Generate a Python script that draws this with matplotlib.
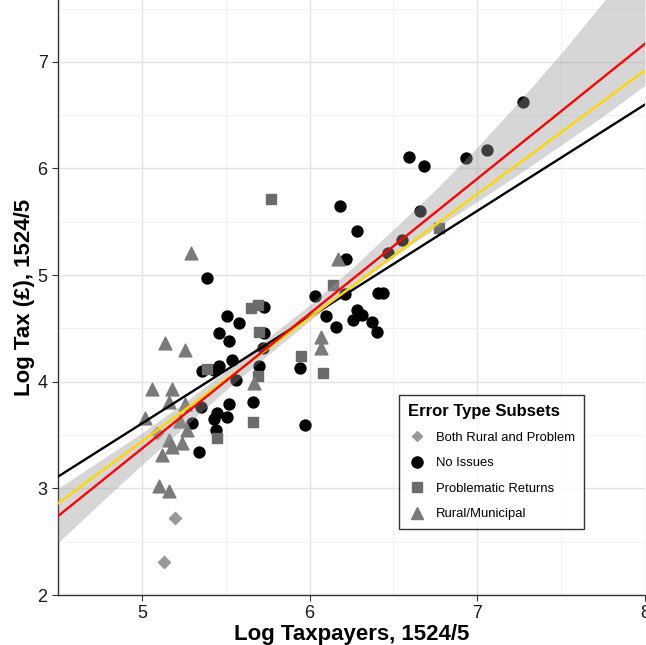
import matplotlib.pyplot as plt
from matplotlib.lines import Line2D

plt.rcParams['font.family'] = ['Liberation Sans', 'DejaVu Sans']

# No Issues (black circles): log taxpayers, log tax
none_x = [5.39, 5.51, 5.58, 5.46, 5.52, 5.54, 5.46, 5.36, 5.43, 5.56, 5.70, 5.73,
          5.73, 5.72, 5.94, 6.03, 6.10, 6.16, 6.26, 6.28, 6.31, 6.37, 6.40, 6.41,
          6.44, 6.22, 6.18, 6.28, 6.59, 6.68, 6.93, 7.27, 7.06, 6.66, 6.55, 6.47,
          6.21, 5.97, 5.66, 5.52, 5.45, 5.43, 5.51, 5.30, 5.44, 5.34, 5.35]
none_y = [4.97, 4.62, 4.55, 4.46, 4.38, 4.20, 4.15, 4.10, 4.11, 4.02, 4.15, 4.70,
          4.46, 4.32, 4.13, 4.80, 4.62, 4.51, 4.58, 4.67, 4.63, 4.56, 4.47, 4.83,
          4.83, 5.15, 5.65, 5.41, 6.11, 6.02, 6.10, 6.62, 6.17, 5.60, 5.33, 5.21,
          4.82, 3.59, 3.81, 3.79, 3.71, 3.65, 3.67, 3.61, 3.55, 3.34, 3.76]

# Problematic Returns (squares)
prob_x = [5.77, 5.65, 5.69, 5.70, 5.39, 5.69, 5.66, 5.45, 5.95, 6.14, 6.08, 6.77]
prob_y = [5.71, 4.69, 4.72, 4.47, 4.12, 4.05, 3.62, 3.47, 4.24, 4.91, 4.08, 5.44]

# Rural/Municipal (triangles)
rural_x = [5.29, 5.14, 5.26, 5.06, 5.18, 5.16, 5.02, 5.27, 5.16, 5.18, 5.24, 5.12,
           5.10, 5.16, 5.67, 6.07, 6.07, 6.17, 5.26, 5.23]
rural_y = [5.21, 4.36, 4.30, 3.93, 3.93, 3.81, 3.66, 3.55, 3.45, 3.39, 3.43, 3.31,
           3.02, 2.98, 3.99, 4.42, 4.32, 5.15, 3.79, 3.63]

# Both Rural and Problem (diamonds)
both_x = [5.20, 5.13, 5.09]
both_y = [2.72, 2.31, 3.52]

# fitted lines, read at the panel edges
line_x = [4.5, 8.0]
black_y = [3.11, 6.60]
yellow_y = [2.86, 6.92]
red_y = [2.74, 7.17]

# confidence band
band_x = [4.5, 4.75, 5.0, 5.25, 5.5, 5.75, 6.0, 6.25, 6.5, 6.75, 7.0, 7.25, 7.5, 7.75, 8.0]
band_lo = [2.49, 2.86, 3.22, 3.57, 3.92, 4.25, 4.57, 4.88, 5.17, 5.44, 5.69, 5.95,
           6.22, 6.49, 6.78]
band_hi = [3.00, 3.26, 3.52, 3.80, 4.10, 4.41, 4.72, 5.06, 5.43, 5.80, 6.20, 6.63,
           7.08, 7.56, 8.05]

fig = plt.figure(figsize=(6.46, 6.45), dpi=100)
ax = fig.add_axes([0.0898, 0.0775, 0.9087, 0.9225])

ax.scatter(both_x, both_y, marker='D', s=38, color='#999999', zorder=3)
ax.scatter(none_x, none_y, marker='o', s=62, color='black', zorder=3)
ax.scatter(prob_x, prob_y, marker='s', s=58, color='#6b6b6b', zorder=3)
ax.scatter(rural_x, rural_y, marker='^', s=85, color='#7a7a7a', zorder=3)

ax.fill_between(band_x, band_lo, band_hi, color='#999999', alpha=0.4, lw=0, zorder=4)
ax.plot(line_x, black_y, color='black', lw=1.7, zorder=5)
ax.plot(line_x, yellow_y, color='#FFD700', lw=1.7, zorder=6)
ax.plot(line_x, red_y, color='red', lw=1.7, zorder=7)

ax.set_xlim(4.5, 8.0)
ax.set_ylim(2.0, 7.58)
ax.set_xticks([5, 6, 7, 8])
ax.set_yticks([2, 3, 4, 5, 6, 7])
ax.set_xticks([4.5, 5.5, 6.5, 7.5], minor=True)
ax.set_yticks([2.5, 3.5, 4.5, 5.5, 6.5, 7.5], minor=True)
ax.grid(which='major', color='#e3e3e3', lw=1)
ax.grid(which='minor', color='#efefef', lw=0.6)
ax.set_axisbelow(True)
for s in ['top', 'right']:
    ax.spines[s].set_visible(False)
for s in ['left', 'bottom']:
    ax.spines[s].set_color('#333333')
    ax.spines[s].set_linewidth(1.0)
ax.tick_params(which='major', length=4, color='#333333', labelsize=13, labelcolor='#1a1a1a')
ax.tick_params(which='minor', length=0)

ax.set_xlabel('Log Taxpayers, 1524/5', fontsize=16, fontweight='bold', labelpad=1)
ax.set_ylabel('Log Tax (£), 1524/5', fontsize=16, fontweight='bold', labelpad=2)

handles = [
    Line2D([], [], marker='D', ls='', color='#999999', markersize=5.5),
    Line2D([], [], marker='o', ls='', color='black', markersize=8),
    Line2D([], [], marker='s', ls='', color='#6b6b6b', markersize=7.5),
    Line2D([], [], marker='^', ls='', color='#7a7a7a', markersize=9),
]
labels = ['Both Rural and Problem', 'No Issues', 'Problematic Returns', 'Rural/Municipal']
leg = ax.legend(handles, labels, title='Error Type Subsets', loc='upper left',
                bbox_to_anchor=(0.581, 0.336), fontsize=9.4, frameon=True,
                fancybox=False, edgecolor='black', handlelength=1.4,
                handletextpad=0.8, labelspacing=1.02, borderpad=0.65,
                borderaxespad=0)
leg.get_title().set_fontweight('bold')
leg.get_title().set_fontsize(12)
leg._legend_box.align = 'left'
leg.get_frame().set_linewidth(1.0)
leg.set_zorder(10)

fig.savefig('out.png', dpi=100)
